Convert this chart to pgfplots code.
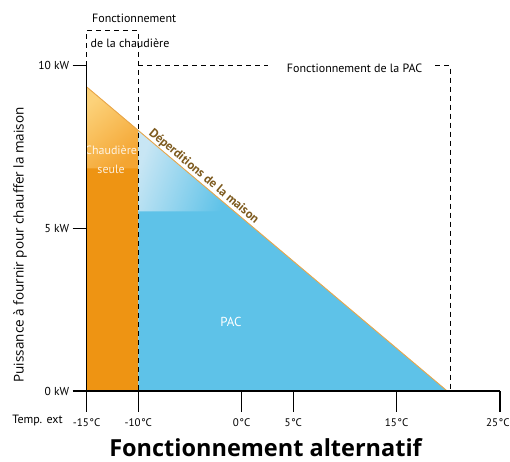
\documentclass[border=0pt]{standalone}
\usepackage{pgfplots}
\pgfplotsset{compat=1.18}
\usepackage{fontspec}
\setmainfont{PT Sans}
\newfontfamily\titlefont{Open Sans}
\newfontfamily\labelfont{Open Sans}

\definecolor{chaud}{HTML}{EE9413}
\definecolor{chaudlight}{HTML}{FCD27A}
\definecolor{chaudmid}{HTML}{F4A532}
\definecolor{pac}{HTML}{5EC2E8}
\definecolor{paclight}{HTML}{C8E6F4}
\definecolor{courbe}{HTML}{E8A64A}
\definecolor{brun}{HTML}{7D5A1E}

\begin{document}
\begin{tikzpicture}
\useasboundingbox (-86.6pt,-70pt) rectangle (423.4pt,391pt);
\begin{axis}[
    at={(0pt,0pt)}, anchor=south west,
    scale only axis, width=413.3pt, height=325.3pt,
    xmin=-15, xmax=25, ymin=0, ymax=10,
    clip=false,
    axis on top,
    axis lines=left,
    axis line style={-, line width=1.3pt},
    xtick={-15,-10,0,5,15,25},
    xticklabels={-15\kern0.5pt°C,-10\kern0.5pt°C,0\kern0.5pt°C,5\kern0.5pt°C,15\kern0.5pt°C,25\kern0.5pt°C\hspace*{4pt}},
    ytick={0,5,10},
    yticklabels={0 kW,5 kW,10 kW},
    tick align=outside,
    major tick length=14pt,
    tick style={black, line width=1.3pt},
    xtick style={draw=none},
    yticklabel style={font=\fontsize{11.5}{13}\selectfont},
    xticklabel style={font=\fontsize{11}{13}\selectfont, yshift=-10pt},
    dashline/.style={black, line width=1.2pt, dash pattern=on 5pt off 4pt},
]
% zone chaudiere seule
\addplot[draw=none, fill=chaud] coordinates {(-15,0) (-15,9.35) (-10,8.01) (-10,0)} -- cycle;
\addplot[draw=none, top color=chaudlight, bottom color=chaudmid, shading angle=40]
    coordinates {(-15,6.84) (-15,9.35) (-10,8.01) (-10,6.84)} -- cycle;
% zone PAC
\addplot[draw=none, fill=pac] coordinates {(-10,0) (-10,8.01) (19.9,0)} -- cycle;
\addplot[draw=none, top color=paclight, bottom color=pac, shading angle=70]
    coordinates {(-10,5.52) (-10,8.01) (-0.7,5.52)} -- cycle;
% deperditions
\addplot[courbe, line width=0.9pt] coordinates {(-15,9.35) (19.9,0)};
% cadres pointilles
\addplot[dashline] coordinates {(-15,10) (-15,11.08) (-10,11.08) (-10,0)};
\addplot[dashline] coordinates {(-10,10) (2.57,10)};
\addplot[dashline] coordinates {(18.73,10) (20.2,10) (20.2,0)};

% graduations de l'axe des temperatures (plus longues)
\pgfplotsinvokeforeach{-15,-10,0,5,15,25}{
    \draw[black, line width=1.3pt] (axis cs:#1,0) -- ++(0pt,-21pt);
}

\node[font=\fontsize{12}{14}\selectfont] at (axis cs:-10.4,11.47) {Fonctionnement};
\node[font=\fontsize{12}{14}\selectfont] at (axis cs:-10.8,10.70) {de la chaudière};
\node[font=\fontsize{12}{14}\selectfont] at (axis cs:10.93,9.93) {Fonctionnement de la PAC};
\node[font=\bfseries\fontsize{12.5}{14}\selectfont, text=brun, rotate=-40.2, anchor=south, inner sep=1pt]
    at (axis cs:-4.10,6.43) {Déperditions de la maison};
\node[font=\fontsize{12}{14}\selectfont, text=white, opacity=0.85] at (axis cs:-12.63,7.41) {Chaudière};
\node[font=\fontsize{12}{14}\selectfont, text=white, opacity=0.85] at (axis cs:-12.63,6.82) {seule};
\node[font=\fontsize{13}{15}\selectfont, text=white] at (axis cs:-1.02,2.12) {PAC};
\node[font=\labelfont\fontsize{13.5}{15}\selectfont, rotate=90] at (axis cs:-21.44,4.49)
    {Puissance à fournir pour chauffer la maison};
\node[font=\fontsize{12}{14}\selectfont] at (axis cs:-19.75,-0.91) {Temp. ext};
\node[font=\titlefont\bfseries\fontsize{23.5}{27}\selectfont, anchor=base, inner sep=0pt]
    at (axis cs:2.32,-2.0) {Fonctionnement alternatif};
\end{axis}
\end{tikzpicture}
\end{document}
